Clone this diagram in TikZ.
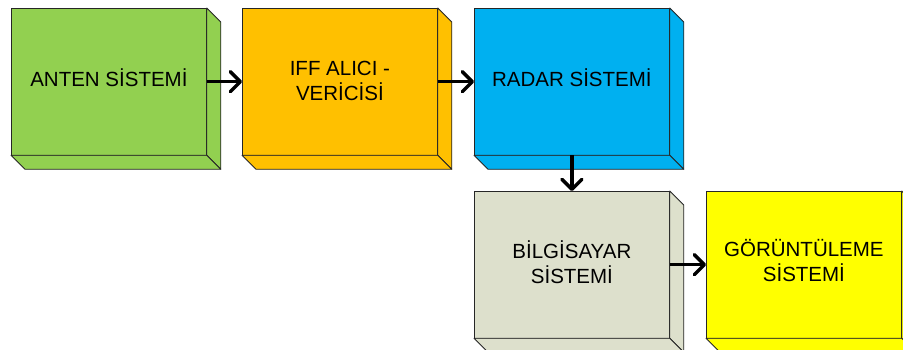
\documentclass[tikz,border=0pt]{standalone}
\usepackage{fontspec}
\setmainfont{Liberation Sans}
\usetikzlibrary{arrows.meta}

\definecolor{cgreen}{HTML}{92D050}
\definecolor{corange}{HTML}{FFC000}
\definecolor{cblue}{HTML}{00B0F0}
\definecolor{cgray}{HTML}{DDE0CC}
\definecolor{cyellow}{HTML}{FFFF00}

\tikzset{
  face/.style={draw=black!85, line width=0.8pt, anchor=north west,
    minimum width=195pt, minimum height=146.5pt, inner sep=0pt},
  label text/.style={font=\fontsize{20.5}{25}\selectfont, align=center, inner sep=0pt},
  side/.style={draw=black!85, line width=0.8pt, line join=round},
  arr/.style={line width=3.4pt,
    -{Straight Barb[length=10pt,width=20pt,line cap=round,line join=round]}},
}

% front face node plus its right and bottom depth faces;
% #6 lifts the label a little where accented capitals raise its box
\newcommand\blockbox[6]{%
  \node[face, fill=#4] (#1) at (#2,#3) {};
  \node[label text] (#1-label) at ([yshift=#6]#1.center) {#5};
  \filldraw[side, fill=#4] (#1.north east) -- ++(14,14)
    -- ([shift={(14,14)}]#1.south east) -- (#1.south east) -- cycle;
  \filldraw[side, fill=#4] (#1.south west) -- (#1.south east)
    -- ([shift={(14,14)}]#1.south east) -- ([shift={(14,14)}]#1.south west) -- cycle;
}

\begin{document}
\begin{tikzpicture}[x=1pt, y=-1pt]
  \clip (0,0) rectangle (903,349);
  \fill[white] (0,0) rectangle (903,349);

  \blockbox{anten}{11}{8}{cgreen}{ANTEN SİSTEMİ}{3.8pt}
  \blockbox{iff}{242}{8}{corange}{IFF ALICI -\\VERİCİSİ}{0.8pt}
  \blockbox{radar}{474}{8}{cblue}{RADAR SİSTEMİ}{3.8pt}
  \blockbox{bilg}{474}{191}{cgray}{BİLGİSAYAR\\SİSTEMİ}{2.8pt}
  \blockbox{gor}{706}{191}{cyellow}{GÖRÜNTÜLEME\\SİSTEMİ}{4pt}

  \draw[arr] (anten.east) -- (iff.west);
  \draw[arr] (iff.east) -- (radar.west);
  \draw[arr] (radar.south) -- (bilg.north);
  \draw[arr] (bilg.east) -- (gor.west);
\end{tikzpicture}
\end{document}
